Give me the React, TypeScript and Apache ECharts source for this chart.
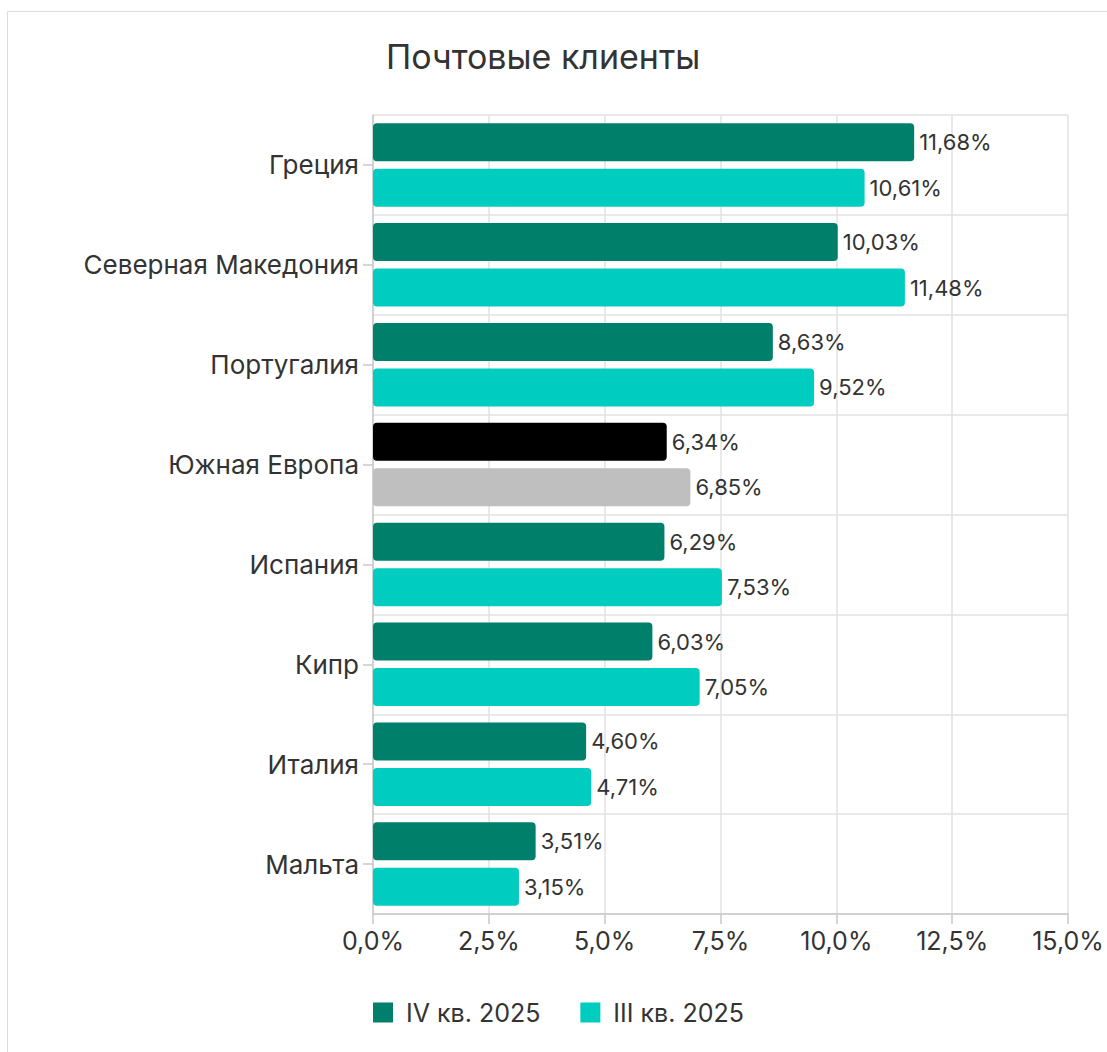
import React, { useEffect, useRef } from "react";
import * as echarts from "echarts";

const categories = [
  "Греция",
  "Северная Македония",
  "Португалия",
  "Южная Европа",
  "Испания",
  "Кипр",
  "Италия",
  "Мальта",
];
const seriesNames = ["IV кв. 2025", "III кв. 2025"];
const q4Values = [11.68, 10.03, 8.63, 6.34, 6.29, 6.03, 4.6, 3.51];
const q3Values = [10.61, 11.48, 9.52, 6.85, 7.53, 7.05, 4.71, 3.15];
const highlightCategory = "Южная Европа";
const xTicks = { min: 0, max: 15, interval: 2.5 };

const FONT = "Inter, 'Noto Sans', sans-serif";
const TEXT = "#333333";

export default function App() {
  const ref = useRef<HTMLDivElement>(null);
  useEffect(() => {
    if (!ref.current) return;
    const chart = echarts.init(ref.current, null, { renderer: "svg" });
    const fmtVal = (v: number) => v.toFixed(2).replace(".", ",") + "%";
    const mk = (vals: number[], hiColor: string) =>
      vals.map((v, i) =>
        categories[i] === highlightCategory
          ? { value: v, itemStyle: { color: hiColor } }
          : { value: v }
      );
    const labelCfg = {
      show: true,
      position: "right",
      distance: 5,
      fontFamily: FONT,
      fontSize: 22,
      color: TEXT,
      formatter: (p: any) => fmtVal(p.value),
    };
    chart.setOption({
      animation: false,
      textStyle: { fontFamily: FONT },
      title: {
        text: "Почтовые клиенты",
        left: 381,
        top: 34,
        textStyle: { fontFamily: FONT, fontSize: 34, fontWeight: "normal", color: TEXT },
      },
      graphic: [
        {
          type: "rect",
          shape: { x: 7.5, y: 11.5, width: 1200, height: 1200 },
          style: { fill: "none", stroke: "#dcdcdc", lineWidth: 1 },
          silent: true,
        },
      ],
      legend: {
        bottom: 22,
        left: 368,
        itemWidth: 20,
        itemHeight: 20,
        itemGap: 40,
        icon: "rect",
        textStyle: { fontFamily: FONT, fontSize: 25, color: TEXT, padding: [0, 0, 0, 8] },
        data: seriesNames,
      },
      grid: { left: 373, right: 39, top: 115, bottom: 138, containLabel: false },
      xAxis: {
        type: "value",
        min: xTicks.min,
        max: xTicks.max,
        interval: xTicks.interval,
        axisLine: { show: true, lineStyle: { color: "#c8c8c8", width: 1.5 } },
        axisTick: { show: true, length: 10, lineStyle: { color: "#c8c8c8", width: 1.5 } },
        splitLine: { show: true, lineStyle: { color: "#e2e2e2", width: 1.5 } },
        axisLabel: {
          fontFamily: FONT,
          fontSize: 25,
          color: TEXT,
          margin: 14,
          formatter: (v: number) => v.toFixed(1).replace(".", ",") + "%",
        },
      },
      yAxis: {
        type: "category",
        inverse: true,
        data: categories,
        axisLine: { show: true, lineStyle: { color: "#c8c8c8", width: 1.5 } },
        axisTick: { show: true, alignWithLabel: true, length: 10, lineStyle: { color: "#c8c8c8", width: 1.5 } },
        splitLine: { show: true, lineStyle: { color: "#e2e2e2", width: 1.5 } },
        axisLabel: { fontFamily: FONT, fontSize: 26, color: TEXT, margin: 14 },
      },
      series: [
        {
          name: seriesNames[0],
          type: "bar",
          data: mk(q4Values, "#000000"),
          itemStyle: { color: "#007f6a", borderRadius: 4 },
          barWidth: 38,
          barGap: "20%",
          label: labelCfg,
        },
        {
          name: seriesNames[1],
          type: "bar",
          data: mk(q3Values, "#bfbfbf"),
          itemStyle: { color: "#00ccc0", borderRadius: 4 },
          barWidth: 38,
          barGap: "20%",
          label: labelCfg,
        },
      ],
    });
    return () => chart.dispose();
  }, []);
  return (
    <div
      ref={ref}
      style={{ position: "absolute", left: 0, top: 0, width: 1107, height: 1052, background: "#fff" }}
    />
  );
}
